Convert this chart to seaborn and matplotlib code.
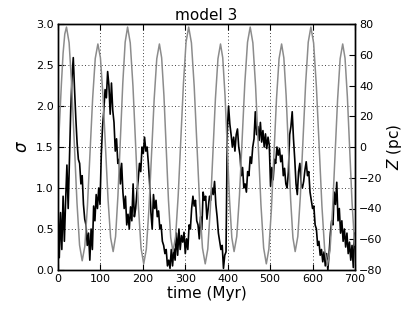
import numpy as np
import pandas as pd
import matplotlib
matplotlib.use("Agg")
import matplotlib.pyplot as plt
import seaborn as sns

# ---- data ----
# sigma (black, left axis), sampled every 3 Myr from 0 to 699
sigma_time = list(range(0, 700, 3))
sigma_vals = [
    0.82, 0.15, 0.70, 0.25, 0.90, 0.35, 0.85, 1.28, 0.75, 1.35,
    1.95, 2.35, 2.59, 2.20, 1.85, 1.55, 1.35, 1.30, 1.05, 1.15,
    0.80, 0.62, 0.55, 0.30, 0.45, 0.12, 0.50, 0.25, 0.78, 0.60,
    0.92, 0.75, 1.00, 0.80, 1.40, 1.75, 1.95, 2.20, 2.10, 2.42,
    2.25, 1.90, 2.28, 1.95, 1.80, 1.45, 1.60, 1.30, 1.35, 1.05,
    1.30, 0.95, 0.75, 0.90, 0.55, 0.68, 0.50, 0.77, 0.60, 1.05,
    0.65, 0.75, 0.95, 1.10, 1.30, 1.20, 1.50, 1.42, 1.62, 1.45,
    1.50, 1.30, 1.05, 0.70, 0.50, 0.92, 0.75, 0.85, 0.65, 0.72,
    0.50, 0.55, 0.35, 0.30, 0.20, 0.25, 0.05, 0.12, 0.02, 0.25,
    0.05, 0.26, 0.12, 0.45, 0.18, 0.50, 0.25, 0.42, 0.34, 0.46,
    0.20, 0.38, 0.25, 0.55, 0.50, 0.75, 0.90, 0.78, 0.85, 0.60,
    0.55, 0.38, 0.65, 0.50, 0.95, 0.85, 0.90, 0.62, 0.75, 0.90,
    0.85, 1.00, 0.92, 1.08, 0.80, 0.65, 0.45, 0.35, 0.25, 0.30,
    0.02, 0.18, 0.22, 1.70, 2.00, 1.78, 1.65, 1.50, 1.62, 1.45,
    1.65, 1.72, 1.50, 1.40, 1.15, 1.25, 1.00, 1.05, 0.95, 1.20,
    1.15, 1.38, 1.30, 1.50, 1.60, 1.93, 1.65, 1.75, 1.58, 1.80,
    1.56, 1.70, 1.50, 1.66, 1.48, 1.62, 1.52, 1.02, 1.25, 1.10,
    1.35, 1.30, 1.50, 1.40, 1.48, 1.32, 1.40, 1.15, 1.24, 1.05,
    1.00, 1.20, 1.65, 1.75, 1.93, 1.60, 1.35, 1.05, 0.92, 1.20,
    1.30, 1.05, 1.00, 1.08, 1.22, 1.32, 1.15, 1.20, 0.95, 0.85,
    0.75, 0.78, 0.55, 0.50, 0.30, 0.35, 0.18, 0.25, 0.10, 0.22,
    0.05, 0.20, 0.00, 0.20, 0.45, 0.60, 0.55, 0.95, 0.80, 1.07,
    0.60, 0.75, 0.45, 0.60, 0.35, 0.50, 0.28, 0.45, 0.20, 0.34,
    0.12, 0.30, 0.03, 0.45,
]

# Z (gray, right axis), read along the oscillation
z_time = [
    0, 4, 8, 12, 16,
    20, 26.2, 32.3, 38.5, 44.7, 50.8,
    57, 63.2, 69.3, 75.5, 81.7, 87.8,
    94, 100, 106, 112, 118, 124,
    130, 135.7, 141.3, 147, 152.7, 158.3,
    164, 170.3, 176.7, 183, 189.3, 195.7,
    202, 208.2, 214.3, 220.5, 226.7, 232.8,
    239, 244.3, 249.7, 255, 260.3, 265.7,
    271, 277.2, 283.3, 289.5, 295.7, 301.8,
    308, 314.5, 321, 327.5, 334, 340.5,
    347, 353, 359, 365, 371, 377,
    383, 388.3, 393.7, 399, 404.3, 409.7,
    415, 421.3, 427.7, 434, 440.3, 446.7,
    453, 459.3, 465.7, 472, 478.3, 484.7,
    491, 497, 503, 509, 515, 521,
    527, 532.3, 537.7, 543, 548.3, 553.7,
    559, 565.2, 571.3, 577.5, 583.7, 589.8,
    596, 602.5, 609, 615.5, 622, 628.5,
    635, 641, 647, 653, 659, 665,
    671, 676.5, 682, 687.5, 693, 698.5, 700,
]
z_vals = [
    -6, 18, 41, 61, 73.5,
    78, 67.8, 40, 2, -36, -63.8,
    -74, -64.6, -38.8, -3.5, 31.8, 57.6,
    67, 58, 33.3, -0.5, -34.3, -59,
    -68, -58.2, -31.5, 5, 41.5, 68.2,
    78, 67.7, 39.5, 1, -37.5, -65.7,
    -76, -66.4, -40.3, -4.5, 31.3, 57.4,
    67, 58, 33.3, -0.5, -34.3, -59,
    -68, -58.2, -31.5, 5, 41.5, 68.2,
    78, 67.7, 39.5, 1, -37.5, -65.7,
    -76, -66.4, -40.3, -4.5, 31.3, 57.4,
    67, 58, 33.3, -0.5, -34.3, -59,
    -68, -58.2, -31.5, 5, 41.5, 68.2,
    78, 67.7, 39.5, 1, -37.5, -65.7,
    -76, -66.4, -40.3, -4.5, 31.3, 57.4,
    67, 58, 33.3, -0.5, -34.3, -59,
    -68, -58.2, -31.5, 5, 41.5, 68.2,
    78, 67.6, 39.25, 0.5, -38.25, -66.6,
    -77, -67.4, -41, -5, 31, 57.4,
    67, 57.8, 32.75, -1.5, -35.75, -60.8, -64,
]

x_ticks = [0, 100, 200, 300, 400, 500, 600, 700]
sigma_ticks = [0.0, 0.5, 1.0, 1.5, 2.0, 2.5, 3.0]
z_ticks = [-80, -60, -40, -20, 0, 20, 40, 60, 80]

sigma_df = pd.DataFrame({"time": sigma_time, "sigma": sigma_vals})
z_df = pd.DataFrame({"time": z_time, "Z": z_vals})

# ---- figure ----
sns.set_style("white")
plt.rcParams["font.family"] = ["DejaVu Sans"]
plt.rcParams["mathtext.fontset"] = "dejavusans"
for k in ("text.color", "axes.labelcolor", "xtick.color", "ytick.color"):
    plt.rcParams[k] = "black"

fig = plt.figure(figsize=(4.16, 3.15), dpi=100)
ax = fig.add_axes([58 / 416, 1 - 270 / 315, (355 - 58) / 416, (270 - 24) / 315])

sns.lineplot(data=sigma_df, x="time", y="sigma", ax=ax, color="black",
             lw=1.2, estimator=None, sort=False)
ax.set_xlim(0, 700)
ax.set_ylim(0, 3)
ax.set_xticks(x_ticks)
ax.set_yticks(sigma_ticks)
ax.set_yticklabels([f"{v:.1f}" for v in sigma_ticks])
ax.grid(True, color="black", linestyle=(0, (1, 3)), linewidth=0.6)
ax.set_xlabel("time (Myr)", fontsize=11, labelpad=1)
ax.set_ylabel(r"$\sigma$", fontsize=12, labelpad=4)
ax.set_title("model 3", fontsize=11, pad=3)
ax.tick_params(axis="both", direction="in", labelsize=8, length=4,
               top=True, bottom=True, left=True, right=False, pad=3,
               colors="black")

ax2 = ax.twinx()
sns.lineplot(data=z_df, x="time", y="Z", ax=ax2, color="#8c8c8c",
             lw=1.1, estimator=None, sort=False)
ax2.set_ylim(-80, 80)
ax2.set_yticks(z_ticks)
ax2.set_ylabel(r"$Z$ (pc)", fontsize=11, labelpad=2)
ax2.tick_params(axis="y", direction="in", labelsize=8, length=4, pad=3,
                colors="black")
ax2.grid(False)

for a in (ax, ax2):
    for s in a.spines.values():
        s.set_color("black")
        s.set_linewidth(1.0)

fig.savefig("out.png", dpi=100)
